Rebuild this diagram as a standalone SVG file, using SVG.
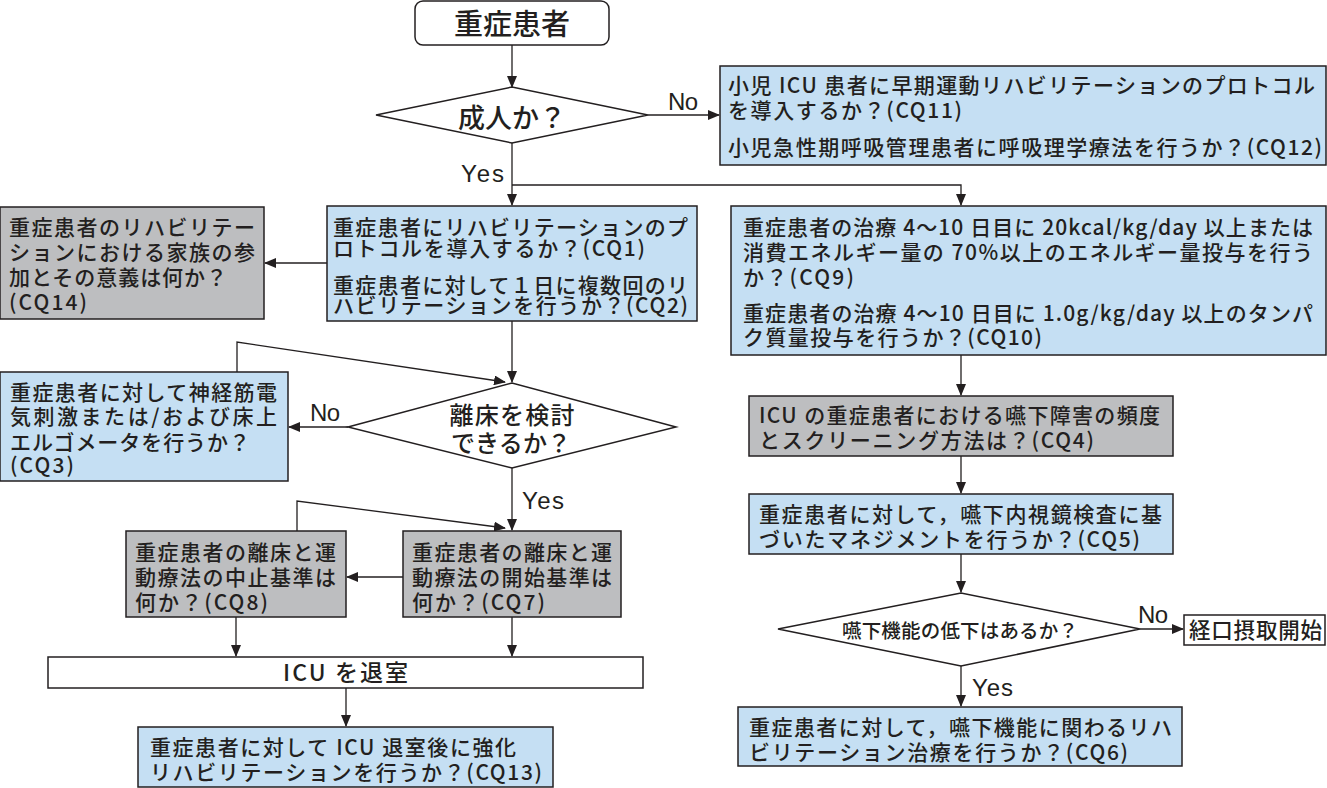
<svg xmlns="http://www.w3.org/2000/svg" width="1327" height="788" viewBox="0 0 1327 788">
<style>
.box{stroke:#231f20;stroke-width:1.5}
.blue{fill:#c5dff3}
.gray{fill:#bdbec0}
.white{fill:#ffffff}
text{font-family:"Noto Sans CJK JP","Noto Sans",sans-serif;fill:#231f20;font-weight:500}
.t{font-size:21px}
.lat{font-family:"Liberation Sans",Arial,sans-serif;font-size:24px;font-weight:400}
.ln{fill:none;stroke:#231f20;stroke-width:1.3}
</style>
<defs>
<marker id="ah" markerWidth="12" markerHeight="10" refX="11" refY="5" orient="auto" markerUnits="userSpaceOnUse">
<path d="M0,0 L12,5 L0,10 Z" fill="#231f20"/>
</marker>
</defs>
<rect width="1327" height="788" fill="#ffffff"/>

<g id="connectors">
<path class="ln" d="M512,45 V87" marker-end="url(#ah)"/>
<path class="ln" d="M648,115 H719" marker-end="url(#ah)"/>
<path class="ln" d="M512,143 V205" marker-end="url(#ah)"/>
<path class="ln" d="M512,185 H961 V205" marker-end="url(#ah)"/>
<path class="ln" d="M327,263 H265" marker-end="url(#ah)"/>
<path class="ln" d="M512,321 V382" marker-end="url(#ah)"/>
<path class="ln" d="M237,372 V342 L505,382" marker-end="url(#ah)"/>
<path class="ln" d="M348,427 H289" marker-end="url(#ah)"/>
<path class="ln" d="M512,468 V530" marker-end="url(#ah)"/>
<path class="ln" d="M297,531 V501 L505,528" marker-end="url(#ah)"/>
<path class="ln" d="M403,577 H347" marker-end="url(#ah)"/>
<path class="ln" d="M236,617 V656" marker-end="url(#ah)"/>
<path class="ln" d="M512,617 V656" marker-end="url(#ah)"/>
<path class="ln" d="M346,688 V726" marker-end="url(#ah)"/>
<path class="ln" d="M961,355 V395" marker-end="url(#ah)"/>
<path class="ln" d="M961,456 V493" marker-end="url(#ah)"/>
<path class="ln" d="M961,554 V592" marker-end="url(#ah)"/>
<path class="ln" d="M1140,629 H1183" marker-end="url(#ah)"/>
<path class="ln" d="M961,666 V706" marker-end="url(#ah)"/>
<text class="lat" x="668" y="110" textLength="30">No</text>
<text class="lat" x="461" y="182" textLength="43">Yes</text>
<text class="lat" x="310" y="421" textLength="30">No</text>
<text class="lat" x="522" y="509" textLength="42">Yes</text>
<text class="lat" x="1138" y="623" textLength="30">No</text>
<text class="lat" x="972" y="696" textLength="41">Yes</text>
</g>

<g id="start">
<rect class="box white" x="415" y="1" width="194" height="44" rx="8"/>
<text x="512" y="35" font-size="29" text-anchor="middle">重症患者</text>
</g>

<g id="adult">
<polygon class="box white" points="376,115 512,87 648,115 512,143"/>
<text x="512" y="128" font-size="27" text-anchor="middle">成人か？</text>
</g>

<g id="cq11-12">
<rect class="box blue" x="720" y="66" width="606" height="99"/>
<text class="t"><tspan x="728" y="93" textLength="587">小児 ICU 患者に早期運動リハビリテーションのプロトコル</tspan><tspan x="728" y="118" textLength="234">を導入するか？(CQ11)</tspan><tspan x="728" y="155" textLength="594">小児急性期呼吸管理患者に呼吸理学療法を行うか？(CQ12)</tspan></text>
</g>

<g id="cq1-2">
<rect class="box blue" x="327" y="206" width="370" height="115"/>
<text class="t"><tspan x="333" y="235" textLength="355">重症患者にリハビリテーションのプ</tspan><tspan x="333" y="256" textLength="312">ロトコルを導入するか？(CQ1)</tspan><tspan x="333" y="293" textLength="355">重症患者に対して１日に複数回のリ</tspan><tspan x="333" y="313" textLength="355">ハビリテーションを行うか？(CQ2)</tspan></text>
</g>

<g id="cq14">
<rect class="box gray" x="0" y="207" width="264" height="112"/>
<text class="t"><tspan x="9" y="235" textLength="246">重症患者のリハビリテー</tspan><tspan x="9" y="260" textLength="246">ションにおける家族の参</tspan><tspan x="9" y="285" textLength="218">加とその意義は何か？</tspan><tspan x="9" y="310" textLength="78">(CQ14)</tspan></text>
</g>

<g id="cq9-10">
<rect class="box blue" x="731" y="206" width="595" height="149"/>
<text class="t"><tspan x="743" y="235" textLength="570">重症患者の治療 4〜10 日目に 20kcal/kg/day 以上または</tspan><tspan x="743" y="260" textLength="570">消費エネルギー量の 70%以上のエネルギー量投与を行う</tspan><tspan x="743" y="285" textLength="111">か？(CQ9)</tspan><tspan x="743" y="321" textLength="570">重症患者の治療 4〜10 日目に 1.0g/kg/day 以上のタンパ</tspan><tspan x="743" y="345" textLength="299">ク質量投与を行うか？(CQ10)</tspan></text>
</g>

<g id="cq3">
<rect class="box blue" x="0" y="372" width="288" height="109"/>
<text class="t"><tspan x="10" y="400" textLength="267">重症患者に対して神経筋電</tspan><tspan x="10" y="424" textLength="267">気刺激または/および床上</tspan><tspan x="10" y="450" textLength="240">エルゴメータを行うか？</tspan><tspan x="10" y="473" textLength="64">(CQ3)</tspan></text>
</g>

<g id="mobilize">
<polygon class="box white" points="348,427 512,383 676,427 512,468"/>
<text font-size="24" text-anchor="middle"><tspan x="512" y="424" textLength="125">離床を検討</tspan><tspan x="511" y="452" textLength="120">できるか？</tspan></text>
</g>

<g id="cq8">
<rect class="box gray" x="126" y="531" width="220" height="86"/>
<text class="t" font-size="22"><tspan x="135" y="560" textLength="201">重症患者の離床と運</tspan><tspan x="135" y="585" textLength="201">動療法の中止基準は</tspan><tspan x="135" y="610" textLength="133">何か？(CQ8)</tspan></text>
</g>

<g id="cq7">
<rect class="box gray" x="403" y="531" width="218" height="86"/>
<text class="t" font-size="22"><tspan x="412" y="560" textLength="200">重症患者の離床と運</tspan><tspan x="412" y="585" textLength="200">動療法の開始基準は</tspan><tspan x="412" y="610" textLength="133">何か？(CQ7)</tspan></text>
</g>

<g id="icu-exit">
<rect class="box white" x="48" y="657" width="595" height="31"/>
<text x="283" y="681" font-size="23" textLength="125">ICU を退室</text>
</g>

<g id="cq13">
<rect class="box blue" x="138" y="727" width="415" height="60"/>
<text class="t"><tspan x="150" y="755" textLength="366">重症患者に対して ICU 退室後に強化</tspan><tspan x="150" y="780" textLength="392">リハビリテーションを行うか？(CQ13)</tspan></text>
</g>

<g id="cq4">
<rect class="box gray" x="749" y="396" width="424" height="60"/>
<text class="t"><tspan x="759" y="423" textLength="401">ICU の重症患者における嚥下障害の頻度</tspan><tspan x="759" y="448" textLength="335">とスクリーニング方法は？(CQ4)</tspan></text>
</g>

<g id="cq5">
<rect class="box blue" x="749" y="494" width="424" height="60"/>
<text class="t"><tspan x="759" y="522" textLength="403">重症患者に対して，嚥下内視鏡検査に基</tspan><tspan x="759" y="547" textLength="381">づいたマネジメントを行うか？(CQ5)</tspan></text>
</g>

<g id="swallow">
<polygon class="box white" points="778,629 961,593 1140,629 961,666"/>
<text x="842" y="638" font-size="19.5" textLength="236">嚥下機能の低下はあるか？</text>
</g>

<g id="oral">
<rect class="box white" x="1184" y="615" width="141" height="30"/>
<text x="1189" y="638" font-size="21.5" textLength="133">経口摂取開始</text>
</g>

<g id="cq6">
<rect class="box blue" x="738" y="707" width="444" height="59"/>
<text class="t"><tspan x="749" y="735" textLength="423">重症患者に対して，嚥下機能に関わるリハ</tspan><tspan x="749" y="760" textLength="379">ビリテーション治療を行うか？(CQ6)</tspan></text>
</g>
</svg>
